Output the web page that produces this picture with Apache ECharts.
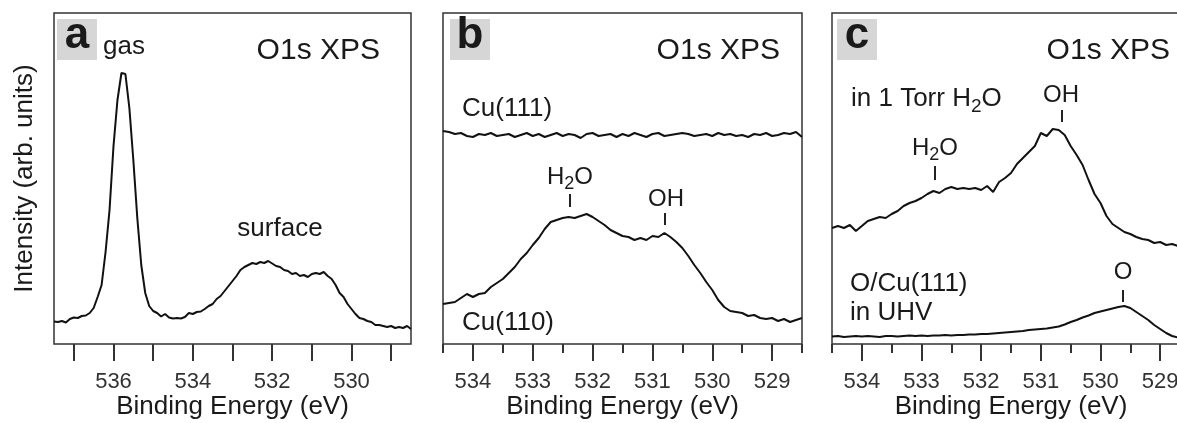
<!DOCTYPE html>
<html>
<head>
<meta charset="utf-8">
<script src="https://cdn.jsdelivr.net/npm/echarts@6/dist/echarts.min.js"></script>
<style>
html,body{margin:0;padding:0;background:#fff;}
#chart{width:1177px;height:423px;}
</style>
</head>
<body>
<div id="chart"></div>
<script>
// ---------- DATA ----------
// Panel a: binding energy (eV) and intensity (arb. units)
const energyA = [537.5,537.4,537.3,537.2,537.1,537.0,536.9,536.8,536.7,536.6,536.5,536.4,536.3,536.2,536.1,536.0,535.9,535.8,535.7,535.6,535.5,535.4,535.3,535.2,535.1,535.0,534.9,534.8,534.7,534.6,534.5,534.4,534.3,534.2,534.1,534.0,533.9,533.8,533.7,533.6,533.5,533.4,533.3,533.2,533.1,533.0,532.9,532.8,532.7,532.6,532.5,532.4,532.3,532.2,532.1,532.0,531.9,531.8,531.7,531.6,531.5,531.4,531.3,531.2,531.1,531.0,530.9,530.8,530.7,530.6,530.5,530.4,530.3,530.2,530.1,530.0,529.9,529.8,529.7,529.6,529.5,529.4,529.3,529.2,529.1,529.0,528.9,528.8,528.7,528.6,528.5];
const intensityA = [22.5,22,23,21.5,25,26.5,26,28,28.5,31,36,47,59,92,134,198,244,271,270,236,184,126,79,51,38,33,31,27.5,30,26.5,25.5,26,25.5,27,31,30,32,32.5,35,38,40,45,48,53,58,63,68,74,77,79,81,80,82,81,83,80.5,78,77,74,73,70,71,68,69,67,70,71,70,72,68,65,59,51,47,40,35,30,26,25,23,22,19,19,18,17,18,16,17,16,18,15];

// Panels b and c share the energy grid
const energyBC = [534.5,534.4,534.3,534.2,534.1,534.0,533.9,533.8,533.7,533.6,533.5,533.4,533.3,533.2,533.1,533.0,532.9,532.8,532.7,532.6,532.5,532.4,532.3,532.2,532.1,532.0,531.9,531.8,531.7,531.6,531.5,531.4,531.3,531.2,531.1,531.0,530.9,530.8,530.7,530.6,530.5,530.4,530.3,530.2,530.1,530.0,529.9,529.8,529.7,529.6,529.5,529.4,529.3,529.2,529.1,529.0,528.9,528.8,528.7,528.6,528.5];
const cu111 = [213,212,210,211,208,207,210,209,211,208,209,210,207,209,211,208,210,207,209,211,208,210,209,206,210,211,208,209,210,207,210,208,211,209,207,210,211,208,209,210,211,210,208,209,210,208,211,209,210,208,209,207,210,209,211,208,209,211,210,212,207];
const cu110 = [40,41,42,46,50,47,50,51,57,61,65,71,77,85,91,99,106,115,122,124,126,127,126,128,130,127,123,119,114,111,108,107,104,106,104,108,107,111,107,102,96,88,79,71,62,54,44,37,33,32,31,28,29,26,25,26,23,25,22,24,26];
const torrH2O = [116,118,116,119,113,118,123,125,127,126,130,133,138,141,143,146,150,153,151,155,157,155,156,155,156,154,158,152,162,166,171,180,186,192,198,211,208,215,214,209,198,189,179,164,150,141,128,120,116,112,110,107,105,104,101,102,99,100,98,98,97];
const uhvOCu111 = [7.5,8,7,7.5,8,7.5,8,7.5,7,8,8,7.5,8,8.5,8,8.5,8,8.5,8.5,9,8.5,9,9,9.5,9.5,10,10,10.5,11,11.5,12,12.5,13,14,14.5,15,15.5,16.5,17.5,19.5,22,24,26.5,28.5,31,32.5,34,35.5,37,38,36,32,28,24,19,15,11,8,6.5,6,6];

// Tick values
const ticksA = [529,530,531,532,533,534,535,536,537];
const labelsA = [530,532,534,536];
const majorBC = [529,530,531,532,533,534];
const minorBC = [528.5,529.5,530.5,531.5,532.5,533.5,534.5];

// ---------- CHART ----------
const FONT = '"Liberation Sans", Arial, Helvetica, sans-serif';
const TXT = '#1a1a1a';
const AX = '#333';
const chart = echarts.init(document.getElementById('chart'), null, {renderer:'canvas'});

const mctx = document.createElement('canvas').getContext('2d');
function tw(text, size, weight){ mctx.font = (weight||'normal') + ' ' + size + 'px ' + FONT; return mctx.measureText(text).width; }

function txt(x, y, text, size, align, weight){
  return {type:'text', x:x, y:y, silent:true,
    style:{text:text, fontSize:size, fontFamily:FONT, fontWeight:weight||'normal', fill:TXT,
      align:align||'left', verticalAlign:'middle', textAlign:align||'left', textVerticalAlign:'middle'}};
}
// chemical formula: parts alternate normal / subscript
function chem(x, y, parts, size, subSize){
  const out = [];
  let cx = x;
  const base = y + 0.35*size;
  parts.forEach(function(p, i){
    const sub = i % 2 === 1;
    const s = sub ? subSize : size;
    const yy = sub ? (base + 0.2*size - 0.35*s) : y;
    out.push(txt(cx, yy, p, s, 'left'));
    cx += tw(p, s);
  });
  return out;
}
function vtick(x, y1, y2){
  return {type:'line', silent:true, shape:{x1:x, y1:y1, x2:x, y2:y2}, style:{stroke:'#222', lineWidth:2}};
}
function box(x, y){
  return {type:'rect', silent:true, shape:{x:x, y:y, width:40, height:41}, style:{fill:'#d6d6d6'}};
}

function mainX(grid, min, max, ticks, labels, len){
  return {gridIndex:grid, type:'value', min:min, max:max, inverse:true, position:'bottom', offset:0,
    axisLine:{show:false}, splitLine:{show:false},
    axisTick:{show:true, customValues:ticks, length:len, lineStyle:{color:AX, width:2}},
    axisLabel:{show:true, customValues:labels, fontSize:22, color:AX, margin:27, fontFamily:FONT,
      formatter:function(v){ return String(v); }},
    name:'Binding Energy (eV)', nameLocation:'middle', nameGap:50, nameMoveOverlap:false,
    nameTextStyle:{fontSize:26, color:TXT, fontFamily:FONT}};
}
function minorX(grid, min, max, ticks){
  return {gridIndex:grid, type:'value', min:min, max:max, inverse:true, position:'bottom', offset:0,
    axisLine:{show:false}, splitLine:{show:false},
    axisTick:{show:true, customValues:ticks, length:9, lineStyle:{color:AX, width:2}},
    axisLabel:{show:false}};
}
function hiddenY(grid, name){
  const y = {gridIndex:grid, type:'value', min:0, max:331, axisLine:{show:false}, axisTick:{show:false},
    axisLabel:{show:false}, splitLine:{show:false}};
  if (name) { y.name = name; y.nameLocation = 'middle'; y.nameGap = 16; y.nameMoveOverlap = false;
    y.nameTextStyle = {fontSize:26, color:TXT, fontFamily:FONT}; }
  return y;
}
function line(xi, yi, xs, ys){
  return {type:'line', xAxisIndex:xi, yAxisIndex:yi, data: xs.map(function(e,i){ return [e, ys[i]]; }),
    showSymbol:false, symbol:'none', silent:true, animation:false,
    lineStyle:{color:'#111', width:2}};
}

const gridStyle = {show:true, borderColor:AX, borderWidth:1.5, backgroundColor:'transparent',
  containLabel:false, outerBoundsMode:'none'};

const graphics = [].concat(
  [box(57,19), txt(77,36,'a',44,'center','bold'),
   txt(103,47,'gas',26,'left'),
   txt(380,51,'O1s XPS',30,'right'),
   txt(280,229,'surface',26,'center'),
   box(450,19), txt(470,36,'b',44,'center','bold'),
   txt(780,51,'O1s XPS',30,'right'),
   txt(462,109,'Cu(111)',26,'left'),
   txt(462,323,'Cu(110)',26,'left')],
  chem(547,177,['H','2','O'],24,18), [vtick(570,194,207)],
  [txt(648,199,'OH',24,'left'), vtick(665,213,225)],
  [box(837,19), txt(857,36,'c',44,'center','bold'),
   txt(1170,51,'O1s XPS',30,'right')],
  chem(851,99,['in 1 Torr H','2','O'],26,19),
  [txt(1043,95,'OH',24,'left'), vtick(1062,110,122)],
  chem(912,148,['H','2','O'],24,18), [vtick(935,166,180)],
  [txt(1123,272,'O',24,'center'), vtick(1123,290,302),
   txt(850,284,'O/Cu(111)',26,'left'),
   txt(850,313,'in UHV',26,'left')]
);

const option = {
  backgroundColor:'#fff',
  animation:false,
  grid:[
    Object.assign({left:54, top:13, width:357, height:331}, gridStyle),
    Object.assign({left:443, top:13, width:359, height:331}, gridStyle),
    Object.assign({left:832, top:13, width:358, height:331}, gridStyle)
  ],
  xAxis:[
    mainX(0, 528.5, 537.5, ticksA, labelsA, 17),
    mainX(1, 528.5, 534.5, majorBC, majorBC, 17),
    minorX(1, 528.5, 534.5, minorBC),
    mainX(2, 528.5, 534.5, majorBC, majorBC, 17),
    minorX(2, 528.5, 534.5, minorBC)
  ],
  yAxis:[hiddenY(0,'Intensity (arb. units)'), hiddenY(1), hiddenY(2)],
  series:[
    line(0,0,energyA,intensityA),
    line(1,1,energyBC,cu111),
    line(1,1,energyBC,cu110),
    line(3,2,energyBC,torrH2O),
    line(3,2,energyBC,uhvOCu111)
  ],
  graphic:{elements:graphics}
};
chart.setOption(option);
</script>
</body>
</html>
